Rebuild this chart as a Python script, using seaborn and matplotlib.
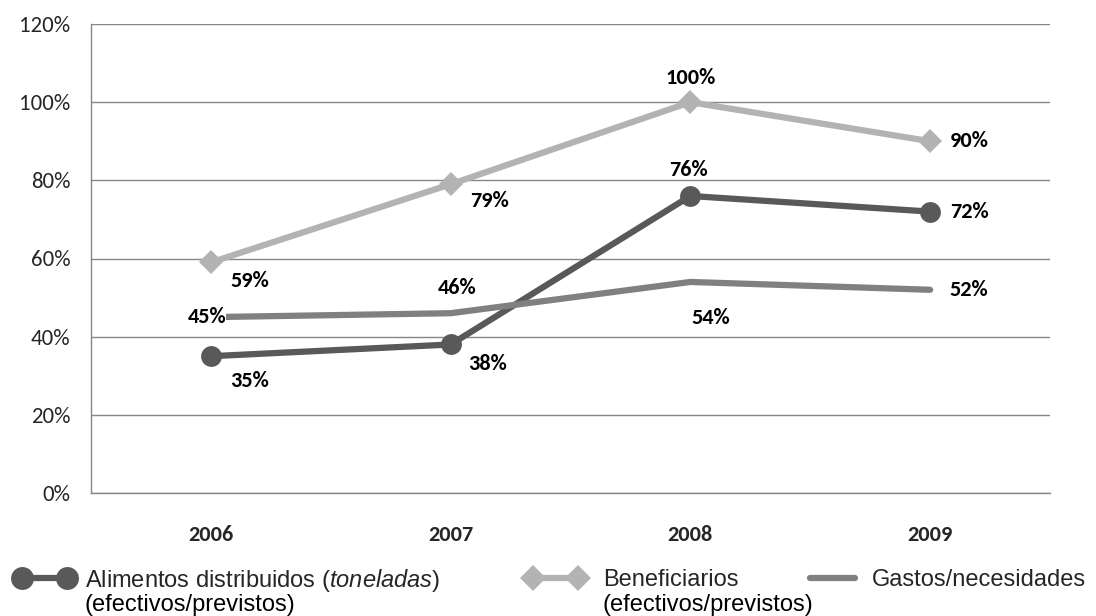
import matplotlib
matplotlib.use("Agg")
import matplotlib.pyplot as plt
import matplotlib.font_manager as fm
import seaborn as sns
import pandas as pd

# data
years = ["2006", "2007", "2008", "2009"]
alimentos = [35, 38, 76, 72]
beneficiarios = [59, 79, 100, 90]
gastos = [45, 46, 54, 52]

yticks = [0, 20, 40, 60, 80, 100, 120]


def pick_font(candidates, default="DejaVu Sans"):
    names = {f.name for f in fm.fontManager.ttflist}
    for c in candidates:
        if c in names:
            return c
    return default


sns.set_theme(style="white")
main_font = pick_font(["Carlito", "Lato", "Open Sans"])
legend_font = pick_font(["Liberation Sans", "Arimo"], default="DejaVu Sans")
plt.rcParams["font.family"] = [main_font, "DejaVu Sans"]
plt.rcParams["mathtext.fontset"] = "custom"
plt.rcParams["mathtext.rm"] = legend_font
plt.rcParams["mathtext.it"] = f"{legend_font}:italic"

W, H = 1096, 616

df = pd.DataFrame({
    "pos": list(range(len(years))) * 3,
    "value": alimentos + beneficiarios + gastos,
    "serie": ["alimentos"] * 4 + ["beneficiarios"] * 4 + ["gastos"] * 4,
})

fig = plt.figure(figsize=(W / 100, H / 100), dpi=100)
ax = fig.add_axes([91 / W, 1 - 493 / H, (1050 - 91) / W, (493 - 24) / H])

styles = {
    "alimentos": dict(color="#595959", marker="o", markersize=15, legend_ms=16.5,
                      label="Alimentos distribuidos ($\\it{toneladas}$)",
                      line2="(efectivos/previstos)"),
    "beneficiarios": dict(color="#b3b3b3", marker="D", markersize=12, legend_ms=13,
                          label="Beneficiarios", line2="(efectivos/previstos)"),
    "gastos": dict(color="#808080", marker=None, markersize=0, legend_ms=0,
                   label="Gastos/necesidades", line2=None),
}

for serie, st in styles.items():
    sub = df[df["serie"] == serie]
    sns.lineplot(data=sub, x="pos", y="value", ax=ax, color=st["color"],
                 marker=st["marker"], markersize=st["markersize"],
                 markeredgewidth=0, linewidth=4.5, label=st["label"],
                 solid_capstyle="round", zorder=3)

# data label offsets in pixels (dx, dy)
label_offsets = {
    "alimentos": [(39, -25), (37, -20), (-2, 26), (39, 0)],
    "beneficiarios": [(39, -19), (39, -17), (0, 24), (39, 0)],
    "gastos": [(-4, 0), (7, 25), (20, -36), (39, 0)],
}
series_vals = {"alimentos": alimentos, "beneficiarios": beneficiarios, "gastos": gastos}
for serie, vals in series_vals.items():
    for i, v in enumerate(vals):
        dx, dy = label_offsets[serie][i]
        bbox = None
        if serie == "gastos" and i == 0:
            bbox = dict(facecolor="white", edgecolor="none", pad=0)
        ax.annotate(f"{v}%", (i, v), xytext=(dx, dy), textcoords="offset pixels",
                    ha="center", va="center", fontsize=16, fontweight="bold",
                    color="black", bbox=bbox, zorder=5)

ax.set_xlim(-0.5, 3.5)
ax.set_ylim(0, 120)
ax.set_yticks(yticks)
ax.set_yticklabels([f"{t}%" for t in yticks], fontsize=16.5)
ax.set_xticks(range(len(years)))
ax.set_xticklabels(years, fontsize=16, fontweight="bold")
ax.set_xticks([-0.5, 0.5, 1.5, 2.5, 3.5], minor=True)
ax.tick_params(axis="x", which="major", length=0, pad=23)
ax.tick_params(axis="x", which="minor", length=6, color="#868686", width=1, direction="out")
ax.tick_params(axis="y", length=6, color="#868686", width=1, direction="out", pad=9)
ax.set_xlabel("")
ax.set_ylabel("")

ax.grid(axis="y", color="#868686", linewidth=1)
ax.set_axisbelow(True)
for side in ["top", "right"]:
    ax.spines[side].set_visible(False)
for side in ["left", "bottom"]:
    ax.spines[side].set_color("#868686")
    ax.spines[side].set_linewidth(1)

# legend: one entry per box, handle aligned with the first text line
handles, labels = ax.get_legend_handles_labels()
ax.legend_.remove()
legend_x = {"alimentos": 15, "beneficiarios": 526, "gastos": 803}
legend_pad = {"alimentos": 0.45, "beneficiarios": 0.75, "gastos": 0.4}
legends = {}
for (serie, st), h in zip(styles.items(), handles):
    leg = fig.legend([h], [st["label"]], loc="center left",
                     bbox_to_anchor=(legend_x[serie] / W, 1 - 580 / H),
                     frameon=False, numpoints=2, handlelength=2.5,
                     handletextpad=legend_pad[serie], borderpad=0, borderaxespad=0,
                     prop={"family": legend_font, "size": 17})
    if st["legend_ms"]:
        leg.legend_handles[0].set_markersize(st["legend_ms"])
    legends[serie] = leg

fig.canvas.draw()
renderer = fig.canvas.get_renderer()
for serie, st in styles.items():
    if st["line2"] is None:
        continue
    bb = legends[serie].get_texts()[0].get_window_extent(renderer)
    fig.text(bb.x0 / W, 1 - 605 / H, st["line2"], ha="left", va="center",
             family=legend_font, fontsize=17, color="black")

fig.savefig("out.png", dpi=100)
